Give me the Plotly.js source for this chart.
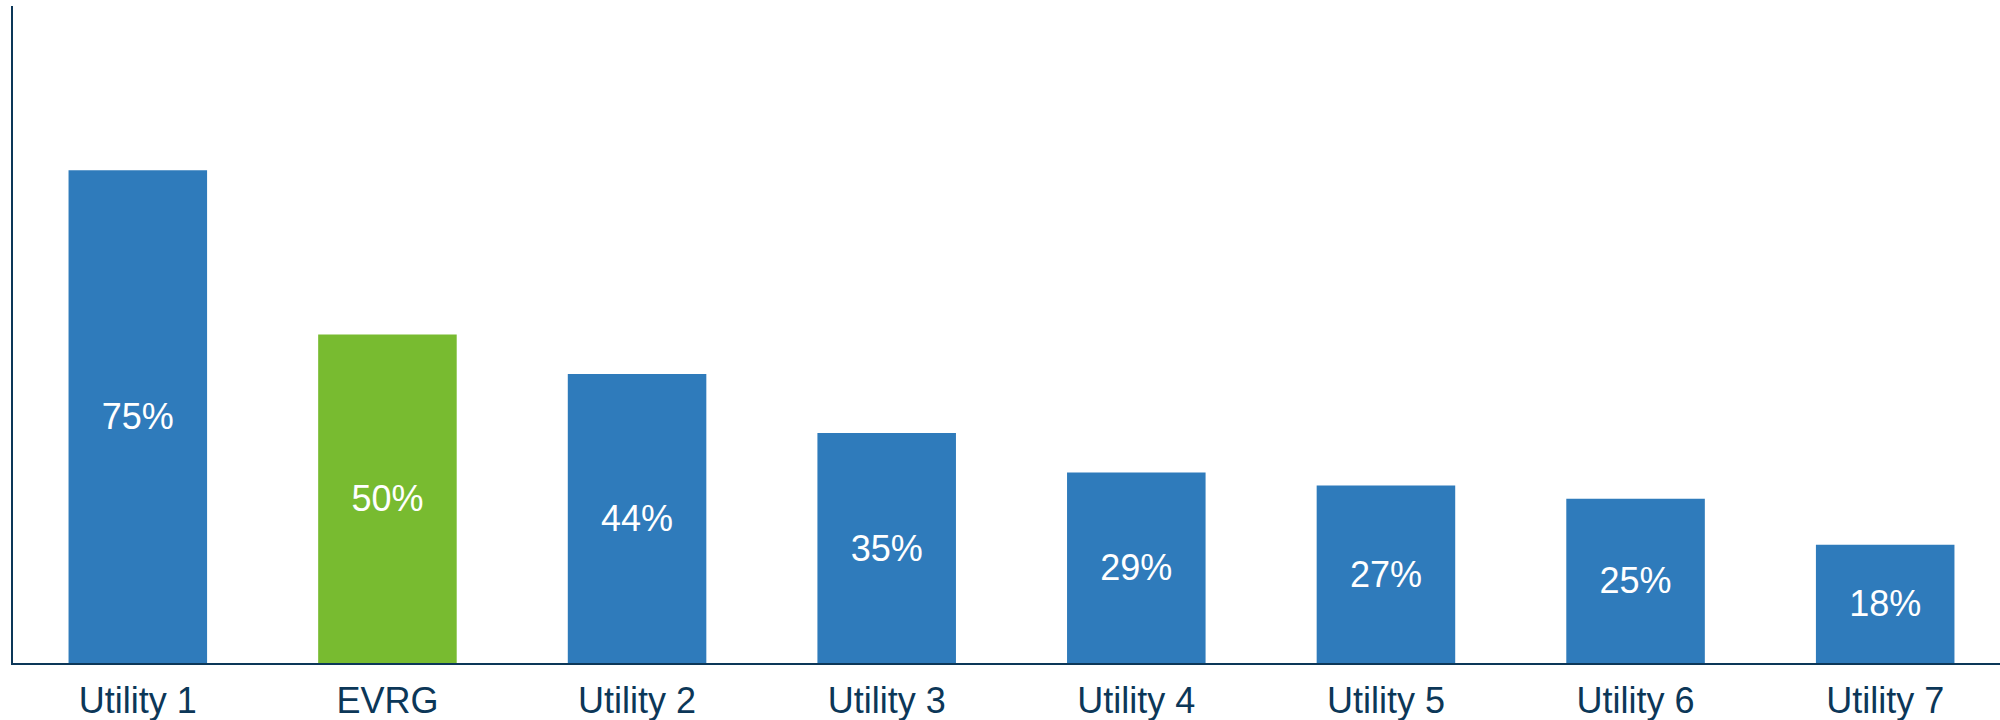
<!DOCTYPE html>
<html>
<head>
<meta charset="utf-8">
<script src="https://cdn.plot.ly/plotly-3.0.1.min.js"></script>
<style>html,body{margin:0;padding:0;background:#fff;overflow:hidden;}#chart{width:2010px;height:720px;}</style>
</head>
<body>
<div id="chart"></div>
<script>
const categories = ["Utility 1", "EVRG", "Utility 2", "Utility 3", "Utility 4", "Utility 5", "Utility 6", "Utility 7"];
const values = [75, 50, 44, 35, 29, 27, 25, 18];
const labels = ["75%", "50%", "44%", "35%", "29%", "27%", "25%", "18%"];
const barColors = ["#2f7bbb", "#78bb30", "#2f7bbb", "#2f7bbb", "#2f7bbb", "#2f7bbb", "#2f7bbb", "#2f7bbb"];

const trace = {
  type: "bar",
  x: categories,
  y: values,
  text: labels,
  textposition: "inside",
  insidetextanchor: "middle",
  textangle: 0,
  textfont: {family: "Liberation Sans, Arial, sans-serif", size: 36, color: "#ffffff"},
  marker: {color: barColors, line: {width: 0}},
  hoverinfo: "none",
  cliponaxis: false
};

const layout = {
  width: 2010,
  height: 720,
  margin: {l: 13, r: 0, t: 6, b: 57, pad: 0},
  paper_bgcolor: "#ffffff",
  plot_bgcolor: "#ffffff",
  showlegend: false,
  bargap: 0.445,
  uniformtext: {mode: false},
  xaxis: {
    type: "category",
    showline: true,
    linecolor: "#0c3758",
    linewidth: 2,
    showgrid: false,
    zeroline: false,
    ticks: "",
    ticklabelstandoff: 5,
    tickfont: {family: "Liberation Sans, Arial, sans-serif", size: 36, color: "#0c3758"},
    automargin: false
  },
  yaxis: {
    range: [0, 100],
    showline: true,
    linecolor: "#0c3758",
    linewidth: 2,
    showgrid: false,
    zeroline: false,
    showticklabels: false,
    ticks: "",
    automargin: false
  }
};

Plotly.newPlot("chart", [trace], layout, {displayModeBar: false, staticPlot: true});
</script>
</body>
</html>
